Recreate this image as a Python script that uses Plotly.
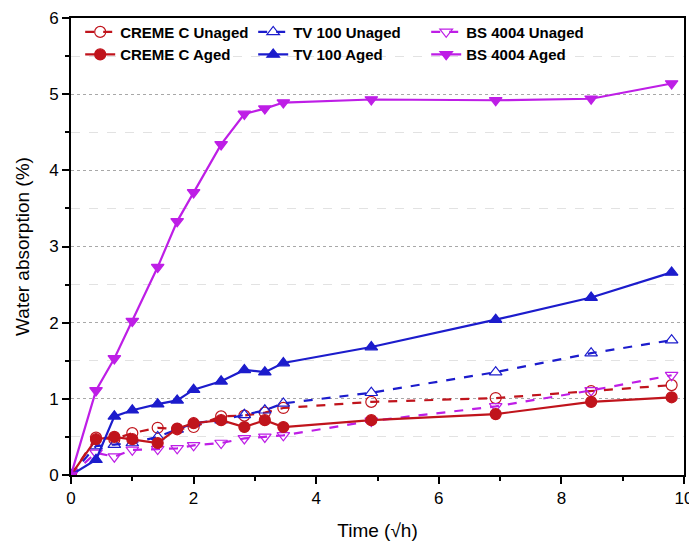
import plotly.graph_objects as go

time_sqrt_h = [0, 0.408, 0.707, 1.0, 1.414, 1.732, 2.0, 2.449, 2.828, 3.162, 3.464, 4.899, 6.928, 8.485, 9.798]

creme_unaged = [0, 0.49, 0.47, 0.55, 0.62, 0.60, 0.63, 0.77, 0.78, 0.82, 0.88, 0.96, 1.01, 1.10, 1.18]
creme_aged = [0, 0.47, 0.50, 0.47, 0.42, 0.61, 0.68, 0.72, 0.63, 0.72, 0.63, 0.72, 0.80, 0.96, 1.02]
tv_unaged = [0, 0.38, 0.40, 0.42, 0.50, 0.60, 0.68, 0.72, 0.79, 0.85, 0.94, 1.08, 1.35, 1.60, 1.77]
tv_aged = [0, 0.20, 0.77, 0.85, 0.93, 0.98, 1.12, 1.23, 1.38, 1.35, 1.47, 1.68, 2.04, 2.33, 2.66]
bs_unaged = [0, 0.29, 0.24, 0.33, 0.34, 0.35, 0.39, 0.42, 0.48, 0.50, 0.52, 0.71, 0.90, 1.11, 1.31]
bs_aged = [0, 1.11, 1.53, 2.02, 2.73, 3.33, 3.71, 4.34, 4.74, 4.81, 4.89, 4.93, 4.92, 4.94, 5.14]

RED = "#C0141C"
BLUE = "#1C1CCC"
MAG = "#BE1EE6"

series = [
    ("CREME C Unaged", creme_unaged, RED, "circle-open", "dash"),
    ("TV 100 Unaged", tv_unaged, BLUE, "triangle-up-open", "dash"),
    ("BS 4004 Unaged", bs_unaged, MAG, "triangle-down-open", "dash"),
    ("CREME C Aged", creme_aged, RED, "circle", "solid"),
    ("TV 100 Aged", tv_aged, BLUE, "triangle-up", "solid"),
    ("BS 4004 Aged", bs_aged, MAG, "triangle-down", "solid"),
]

FONT = "Liberation Sans, Arial, sans-serif"

fig = go.Figure()
for name, vals, col, sym, dash in series:
    fig.add_trace(go.Scatter(
        x=time_sqrt_h, y=vals, name=name, mode="lines+markers",
        line=dict(color=col, width=2.2, dash=dash),
        marker=dict(symbol=sym, size=11, color=col, line=dict(color=col, width=1.2)),
    ))

fig.update_layout(
    width=689, height=540,
    margin=dict(l=63, r=13, t=9, b=73),
    paper_bgcolor="white", plot_bgcolor="white",
    font=dict(family=FONT, size=17, color="black"),
    legend=dict(
        orientation="h", x=0.015, y=1.003, xanchor="left", yanchor="top",
        entrywidth=128, entrywidthmode="pixels",
        font=dict(family=FONT, size=15, color="black", weight="bold"),
        bgcolor="rgba(255,255,255,0)", itemwidth=30, tracegroupgap=0,
    ),
    showlegend=True,
)
fig.update_xaxes(
    range=[0, 10], tickmode="array", tickvals=[0, 2, 4, 6, 8, 10],
    ticks="outside", ticklen=7, tickwidth=1.5, tickcolor="black",
    minor=dict(tickvals=[1, 3, 5, 7, 9], ticks="outside", ticklen=4, tickcolor="black", tickwidth=1.5),
    showline=True, linecolor="black", linewidth=2, mirror=True,
    showgrid=False, zeroline=False, automargin=False,
    title=dict(text="Time (√h)", font=dict(size=19), standoff=16),
    tickfont=dict(size=17),
)
fig.update_yaxes(
    range=[0, 6], tickmode="array", tickvals=[0, 1, 2, 3, 4, 5, 6],
    ticks="outside", ticklen=7, tickwidth=1.5, tickcolor="black",
    minor=dict(tickvals=[0.5, 1.5, 2.5, 3.5, 4.5, 5.5], ticks="outside", ticklen=4, tickcolor="black",
               tickwidth=1.5, showgrid=True, gridcolor="#E2E2E2", griddash="dash", gridwidth=1),
    showline=True, linecolor="black", linewidth=2, mirror=True,
    showgrid=True, gridcolor="#A8A8A8", griddash="dot", gridwidth=1,
    zeroline=False, automargin=False,
    title=dict(text="Water absorption (%)", font=dict(size=19), standoff=14),
    tickfont=dict(size=17),
)

fig.write_html("out.html")
